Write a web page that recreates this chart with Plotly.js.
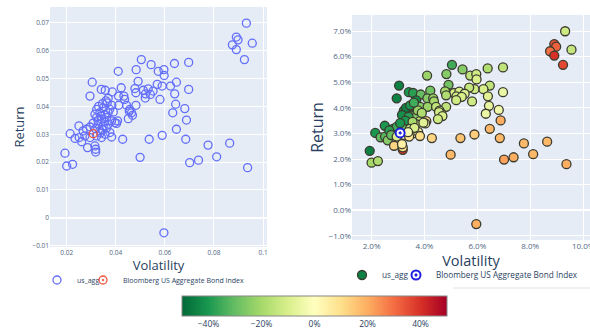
<!DOCTYPE html>
<html><head><meta charset="utf-8">
<script src="https://cdn.plot.ly/plotly-3.0.1.min.js"></script>
<style>html,body{margin:0;padding:0;background:#fff}#chart{width:590px;height:328px}</style>
</head><body><div id="chart"></div>
<script>
// ---- data ----
const volatility = [
0.0304,0.0932,0.0891,0.0898,0.0875,0.0956,0.0891,0.0924,0.0499,0.0701,
0.0737,0.0811,0.0937,0.0596,0.0776,0.0864,0.0536,0.0589,0.0685,0.0428,
0.0647,0.0688,0.0504,0.0544,0.0639,0.0697,0.0410,0.0483,0.0573,0.0596,
0.0597,0.0491,0.0647,0.0623,0.0589,0.0569,0.0478,0.0512,0.0532,0.0552,
0.0697,0.0422,0.0341,0.0357,0.0386,0.0482,0.0521,0.0541,0.0295,0.0411,
0.0433,0.0640,0.0520,0.0580,0.0369,0.0436,0.0365,0.0384,0.0412,0.0444,
0.0482,0.0644,0.0681,0.0457,0.0464,0.0455,0.0468,0.0451,0.0407,0.0403,
0.0632,0.0250,0.0214,0.0234,0.0251,0.0261,0.0285,0.0281,0.0318,0.0318,
0.0315,0.0193,0.0200,0.0224,
0.0322,0.0349,0.0335,0.0356,0.0369,0.0322,0.0342,0.0363,0.0383,0.0328,
0.0349,0.0369,0.0396,0.0335,0.0356,0.0376,0.0322,0.0342,0.0383,0.0295,
0.0267,0.0274,0.0295,0.0330,0.0315,0.0340,0.0328,0.0355,0.0318,0.0345,
0.0362,0.0308,0.0338,0.0375,0.0390,0.0346,0.0360
];
const returns = [
0.0487,0.0699,0.0649,0.0639,0.0621,0.0627,0.0604,0.0568,0.0217,0.0198,
0.0207,0.0219,0.0180,-0.0054,0.0261,0.0268,0.0282,0.0296,0.0282,0.0282,
0.0318,0.0351,0.0568,0.0550,0.0554,0.0558,0.0526,0.0532,0.0526,0.0532,
0.0511,0.0490,0.0487,0.0473,0.0473,0.0479,0.0464,0.0458,0.0463,0.0455,
0.0461,0.0467,0.0461,0.0458,0.0452,0.0449,0.0445,0.0443,0.0437,0.0437,
0.0437,0.0445,0.0430,0.0425,0.0429,0.0425,0.0413,0.0404,0.0404,0.0404,
0.0404,0.0408,0.0392,0.0389,0.0377,0.0383,0.0368,0.0356,0.0348,0.0339,
0.0377,0.0330,0.0302,0.0285,0.0288,0.0273,0.0252,0.0318,0.0236,0.0246,
0.0258,0.0232,0.0186,0.0192,
0.0389,0.0395,0.0377,0.0371,0.0377,0.0360,0.0354,0.0360,0.0348,0.0336,
0.0330,0.0336,0.0342,0.0312,0.0300,0.0306,0.0294,0.0288,0.0290,0.0326,
0.0312,0.0294,0.0288,0.0400,0.0372,0.0365,0.0350,0.0345,0.0320,0.0318,
0.0322,0.0340,0.0305,0.0390,0.0380,0.0410,0.0420
];
const change = [
-0.45,-0.12,0.35,0.32,0.30,-0.14,0.40,0.36,0.18,0.22,
0.20,0.18,0.20,0.20,0.18,0.18,0.16,0.14,0.18,0.12,
0.18,0.20,-0.35,-0.25,-0.18,-0.15,-0.22,-0.25,-0.15,-0.12,
-0.10,-0.28,-0.15,-0.10,-0.12,-0.14,-0.20,-0.10,-0.10,-0.08,
-0.05,-0.28,-0.40,-0.38,-0.30,-0.18,-0.12,-0.10,-0.45,-0.25,
-0.22,-0.08,-0.12,-0.12,-0.42,-0.20,-0.30,-0.25,-0.22,-0.15,
-0.15,-0.06,-0.04,-0.10,-0.08,-0.12,-0.10,-0.12,0.12,-0.05,
-0.05,-0.40,-0.40,-0.30,-0.32,-0.25,0.12,-0.40,0.38,0.10,
0.05,-0.45,-0.20,-0.18,
-0.42,-0.35,-0.40,-0.30,-0.25,-0.42,-0.35,-0.25,-0.15,-0.38,
-0.20,-0.12,-0.08,-0.05,0.02,0.05,0.00,0.08,0.10,-0.35,
-0.38,-0.30,-0.10,-0.45,-0.42,-0.38,-0.40,-0.20,-0.30,-0.15,
-0.10,-0.40,-0.02,-0.22,-0.18,-0.40,-0.35
];
const benchVol = [0.0308];
const benchRet = [0.0302];
const seriesName = 'us_agg';
const benchName = 'Bloomberg US Aggregate Bond Index';
const colorbarTicks = [-0.4, -0.2, 0, 0.2, 0.4];

const rdylgnRev = [
  [0.0,'#006837'],[0.1,'#1a9850'],[0.2,'#66bd63'],[0.3,'#a6d96a'],[0.4,'#d9ef8b'],
  [0.5,'#ffffbf'],[0.6,'#fee08b'],[0.7,'#fdae61'],[0.8,'#f46d43'],[0.9,'#d73027'],[1.0,'#a50026']
];
const W = 590, H = 328;
const px = v => v / W, py = v => 1 - v / H;

const traces = [
  {type:'scatter', mode:'markers', name: seriesName, x: volatility, y: returns,
   xaxis:'x', yaxis:'y', legend:'legend',
   marker:{symbol:'circle-open', size:8, color:'#636efa', line:{width:1.3}}},
  {type:'scatter', mode:'markers', name: benchName, x: benchVol, y: benchRet,
   xaxis:'x', yaxis:'y', legend:'legend3',
   marker:{symbol:'circle-open-dot', size:8, color:'#EF553B', line:{width:1.3}}},
  {type:'scatter', mode:'markers', name: seriesName, x: volatility, y: returns,
   xaxis:'x2', yaxis:'y2', legend:'legend2',
   marker:{size:9, color: change, colorscale: rdylgnRev, cmin:-0.5, cmax:0.5,
     line:{color:'#3b3b2f', width:1.3},
     colorbar:{orientation:'h', x: px(314.5), xanchor:'center', y: py(296), yanchor:'top',
       len:265, lenmode:'pixels', thickness:20, outlinecolor:'#888', outlinewidth:1,
       tickvals: colorbarTicks, tickformat:'.0%', ticks:'', xpad:0, ypad:0,
       tickfont:{size:8.5, color:'#2a3f5f'}}}},
  {type:'scatter', mode:'markers', name: benchName, x: benchVol, y: benchRet,
   xaxis:'x2', yaxis:'y2', legend:'legend4',
   marker:{symbol:'circle-dot', size:9, color:'white', line:{color:'#2020e0', width:2}}}
];

const tickC = '#506784';
const legBase = (x, y, size) => ({orientation:'h', x: px(x), xanchor:'left', y: py(y), yanchor:'middle',
  font:{size:size}, bgcolor:'rgba(0,0,0,0)'});
const layout = {
  width: W, height: H, margin:{l:0,r:0,t:0,b:0, autoexpand:false},
  paper_bgcolor:'white', plot_bgcolor:'#E5ECF6',
  font:{family:'"Open Sans", verdana, arial, sans-serif', color:'#2a3f5f'},
  showlegend: true,
  xaxis:{domain:[px(50), px(267)], anchor:'y', range:[0.0132, 0.1016], dtick:0.02,
    gridcolor:'white', zeroline:false, tickfont:{size:6.5, color:tickC},
    title:{text:'Volatility', font:{size:13}, standoff:1}},
  yaxis:{domain:[py(247), py(7)], anchor:'x', range:[-0.0105, 0.0757], dtick:0.01,
    gridcolor:'white', zerolinecolor:'white', zerolinewidth:2, tickfont:{size:6.5, color:tickC},
    title:{text:'Return', font:{size:13}, standoff:4}},
  xaxis2:{domain:[px(352), 1], anchor:'y2', range:[0.0126, 0.1026], dtick:0.02, tickformat:'.1%',
    gridcolor:'white', zeroline:false, tickfont:{size:8, color:tickC}, ticklabeloverflow:'allow',
    title:{text:'Volatility', font:{size:14.5}, standoff:0}},
  yaxis2:{domain:[py(240), py(15)], anchor:'x2', range:[-0.0116, 0.07625], dtick:0.01, tickformat:'.1%',
    gridcolor:'white', zerolinecolor:'white', zerolinewidth:2, tickfont:{size:8, color:tickC},
    title:{text:'Return', font:{size:16}, standoff:0}},
  legend: legBase(37, 280, 7),
  legend3: legBase(83, 280, 7),
  legend2: legBase(342, 275, 8.2),
  legend4: legBase(396, 275, 8.2),
  shapes:[{type:'line', xref:'paper', yref:'paper', x0:px(453), x1:1, y0:py(288), y1:py(288),
    line:{color:'#e4e4e4', width:1}}]
};
Plotly.newPlot('chart', traces, layout, {displayModeBar:false, staticPlot:true});
</script></body></html>
